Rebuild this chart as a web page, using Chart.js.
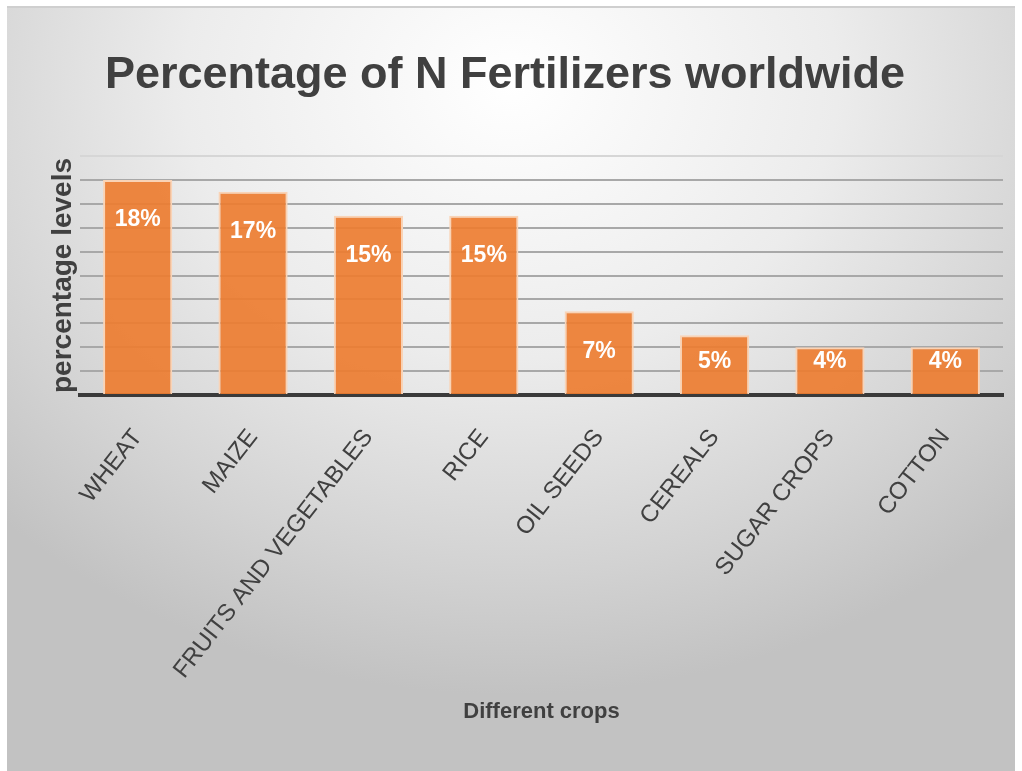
<!DOCTYPE html>
<html>
<head>
<meta charset="utf-8">
<title>Percentage of N Fertilizers worldwide</title>
<script src="https://cdn.jsdelivr.net/npm/chart.js@4.4.1/dist/chart.umd.min.js"></script>
<style>
  html, body { margin: 0; padding: 0; background: #ffffff; }
  #wrap {
    position: absolute;
    left: 7px; top: 6px;
    width: 1008px; height: 765px;
    border-top: 2px solid #cfcfcf;
    box-sizing: border-box;
    background: radial-gradient(ellipse 72% 80% at 50% 10%, #ffffff 0%, #ececec 45%, #d2d2d2 80%, #c2c2c2 100%);
  }
  #fertChart { display: block; }
</style>
</head>
<body>
<div id="wrap"><canvas id="fertChart" width="1008" height="763"></canvas></div>
<script>
// Chart data
const crops = ["WHEAT", "MAIZE", "FRUITS AND VEGETABLES", "RICE", "OIL SEEDS", "CEREALS", "SUGAR CROPS", "COTTON"];
const shares = [18, 17, 15, 15, 7, 5, 4, 4];
const yMax = 20;
const yStep = 2;

const FONT = "'Liberation Sans', Arial, sans-serif";
Chart.defaults.font.family = FONT;
Chart.defaults.color = "#404040";

// White percentage labels inside the bars (no datalabels plugin available)
const barLabels = {
  id: "barLabels",
  afterDatasetsDraw(chart) {
    const ctx = chart.ctx;
    const meta = chart.getDatasetMeta(0);
    ctx.save();
    ctx.fillStyle = "#ffffff";
    ctx.font = "bold 23px " + FONT;
    ctx.textAlign = "center";
    ctx.textBaseline = "middle";
    meta.data.forEach((bar, i) => {
      const y = Math.min(bar.y + 40, bar.base - 32);
      ctx.fillText(shares[i] + "%", bar.x, y);
    });
    ctx.restore();
  }
};

const ctx = document.getElementById("fertChart").getContext("2d");
new Chart(ctx, {
  type: "bar",
  data: {
    labels: crops,
    datasets: [{
      label: "Percentage",
      data: shares,
      backgroundColor: "rgba(237, 125, 49, 0.92)",
      borderColor: "#f9d3b6",
      borderWidth: 2,
      borderSkipped: "bottom",
      categoryPercentage: 1.0,
      barPercentage: 0.6
    }]
  },
  options: {
    responsive: false,
    animation: false,
    layout: {
      padding: { left: 0, right: 12, top: 0, bottom: 0 }
    },
    plugins: {
      legend: { display: false },
      tooltip: { enabled: false },
      title: {
        display: true,
        text: "Percentage of N Fertilizers worldwide",
        color: "#404040",
        font: { size: 45, weight: "bold" },
        padding: { top: 41, bottom: 53 }
      }
    },
    scales: {
      x: {
        grid: { display: false, drawTicks: false },
        border: { display: true, color: "#3a3a3a", width: 4 },
        ticks: {
          color: "#404040",
          font: { size: 24 },
          minRotation: 52,
          maxRotation: 52,
          padding: 29,
          autoSkip: false
        },
        title: {
          display: true,
          text: "Different crops",
          color: "#404040",
          font: { size: 22, weight: "bold" },
          padding: { top: 0, bottom: 46 }
        },
        afterFit(scale) { scale.height = 376; }
      },
      y: {
        min: 0,
        max: yMax,
        ticks: { display: false, stepSize: yStep },
        grid: {
          drawTicks: false,
          lineWidth: 2,
          color: (c) => (c.tick && c.tick.value === yMax ? "#d6d6d6" : "#a8a8a8")
        },
        border: { display: false },
        title: {
          display: true,
          text: "percentage levels",
          color: "#404040",
          font: { size: 28, weight: "bold" },
          padding: { top: 39, bottom: 0 }
        },
        afterFit(scale) { scale.width = 73; }
      }
    }
  },
  plugins: [barLabels]
});
</script>
</body>
</html>
